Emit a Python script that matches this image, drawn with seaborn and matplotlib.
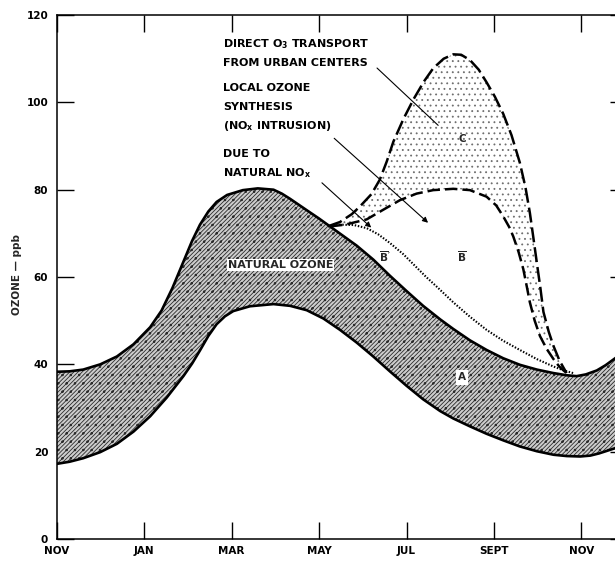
# Seasonal ozone cycle: natural band plus urban contributions

import matplotlib.pyplot as plt
import numpy as np
import seaborn as sns

# x is months after November (0 = NOV, 12 = next NOV), y is ozone in ppb
month_ticks = [0, 2, 4, 6, 8, 10, 12]
month_labels = ['NOV', 'JAN', 'MAR', 'MAY', 'JUL', 'SEPT', 'NOV']
ozone_ticks = [0, 20, 40, 60, 80, 100, 120]

# natural ozone band (A), top edge
upper_a_m = [0.0, 0.3, 0.61, 1.0, 1.38, 1.76, 2.14, 2.4, 2.65, 2.9, 3.1, 3.28,
             3.47, 3.66, 3.9, 4.26, 4.6, 4.96, 5.15, 5.34, 5.72, 6.0, 6.25,
             6.86, 7.24, 7.62, 8.0, 8.38, 8.77, 9.07, 9.45, 9.83, 10.21, 10.59,
             10.98, 11.36, 11.66, 11.89, 12.1, 12.35, 12.55, 12.77, 13.1]
upper_a_v = [38.3, 38.4, 38.8, 40.0, 41.8, 44.6, 48.5, 52.3, 57.5, 63.5, 68.3, 72.0,
             75.0, 77.2, 78.8, 79.9, 80.3, 80.0, 79.1, 77.9, 75.3, 73.4, 71.6,
             67.2, 64.0, 60.3, 56.8, 53.4, 50.3, 48.1, 45.5, 43.3, 41.4, 39.9,
             38.8, 38.0, 37.5, 37.3, 37.7, 38.6, 39.8, 41.4, 44.0]

# natural ozone band (A), bottom edge
lower_a_m = [0.0, 0.3, 0.61, 1.0, 1.38, 1.76, 2.14, 2.52, 2.9, 3.1, 3.28, 3.47,
             3.66, 3.85, 4.04, 4.42, 4.96, 5.34, 5.72, 6.1, 6.48, 6.86, 7.24,
             7.62, 8.0, 8.38, 8.77, 9.07, 9.45, 9.83, 10.21, 10.59, 10.98, 11.36,
             11.66, 11.97, 12.2, 12.4, 12.77, 13.1]
lower_a_v = [17.2, 17.7, 18.5, 19.9, 21.8, 24.6, 28.1, 32.4, 37.3, 40.2, 43.2, 46.5,
             49.2, 51.0, 52.2, 53.3, 53.8, 53.4, 52.4, 50.5, 47.9, 45.0, 41.8,
             38.4, 35.1, 32.0, 29.3, 27.6, 25.8, 24.1, 22.6, 21.2, 20.1, 19.3,
             19.0, 18.9, 19.1, 19.6, 20.8, 22.0]

# direct transport from urban centers (C)
c_m = [6.2, 6.48, 6.75, 6.94, 7.2, 7.39, 7.55, 7.7, 7.93, 8.16, 8.4, 8.61, 8.85,
       9.07, 9.25, 9.45, 9.65, 9.83, 10.02, 10.21, 10.4, 10.59, 10.72, 10.82,
       10.9, 10.98, 11.06, 11.13, 11.25, 11.36, 11.5, 11.66]
c_v = [71.6, 72.6, 74.4, 76.2, 79.0, 82.3, 86.5, 91.0, 96.2, 100.7, 104.8, 107.8,
       110.0, 111.0, 110.9, 109.7, 107.5, 104.6, 101.3, 97.4, 92.5, 86.2, 80.5,
       74.7, 69.0, 63.2, 57.5, 52.0, 47.5, 44.2, 40.8, 38.0]

# local synthesis, NOx intrusion (B)
b_m = [6.25, 6.6, 7.09, 7.45, 7.85, 8.23, 8.61, 9.07, 9.45, 9.83, 10.05, 10.21,
       10.35, 10.44, 10.56, 10.67, 10.75, 10.82, 10.93, 11.05, 11.2, 11.36, 11.5,
       11.66]
b_v = [71.6, 72.0, 73.2, 75.3, 77.6, 79.1, 79.9, 80.2, 79.9, 78.4, 76.4, 73.9,
       71.4, 69.3, 65.8, 61.8, 57.8, 54.2, 50.0, 46.5, 43.6, 41.2, 39.4, 38.0]

# due to natural NOx (B')
bp_m = [6.25, 6.48, 6.8, 7.09, 7.35, 7.62, 7.93, 8.23, 8.45, 8.69, 9.07, 9.45,
        9.83, 10.21, 10.59, 10.98, 11.36, 11.6, 11.81]
bp_v = [71.6, 72.0, 71.9, 71.2, 69.8, 67.8, 65.2, 62.2, 60.0, 57.8, 54.2, 50.9,
        47.9, 45.4, 43.3, 41.2, 39.5, 38.6, 38.0]


def main():
    sns.set_style('ticks')
    plt.rcParams['font.family'] = ['DejaVu Sans']
    plt.rcParams['mathtext.default'] = 'regular'
    plt.rcParams['hatch.linewidth'] = 0.6

    fig = plt.figure(figsize=(6.15, 5.61), dpi=100)
    ax = fig.add_axes([0.0919, 0.0392, 0.9276, 0.934])

    # shaded areas: textured grey for natural ozone, light stipple for C
    ax.fill(np.concatenate([upper_a_m, lower_a_m[::-1]]),
            np.concatenate([upper_a_v, lower_a_v[::-1]]),
            facecolor='#cdcdcd', edgecolor='#2a2a2a', hatch='/' * 8 + '..', lw=0)
    ax.fill(np.concatenate([c_m, b_m[::-1]]),
            np.concatenate([c_v, b_v[::-1]]),
            facecolor='white', edgecolor='#6e6e6e', hatch='...', lw=0)

    sns.lineplot(x=upper_a_m, y=upper_a_v, ax=ax, color='black', lw=1.9,
                 sort=False, estimator=None)
    sns.lineplot(x=lower_a_m, y=lower_a_v, ax=ax, color='black', lw=1.9,
                 sort=False, estimator=None)
    sns.lineplot(x=c_m, y=c_v, ax=ax, color='black', lw=1.8, sort=False,
                 estimator=None, linestyle=(0, (6, 2)))
    sns.lineplot(x=b_m, y=b_v, ax=ax, color='black', lw=1.8, sort=False,
                 estimator=None, linestyle=(0, (5, 2)))
    sns.lineplot(x=bp_m, y=bp_v, ax=ax, color='black', lw=1.5, sort=False,
                 estimator=None, linestyle=(0, (0.7, 0.8)))

    txt = dict(fontsize=8, fontweight='bold', color='black', va='center')
    ax.text(3.81, 113.3, 'DIRECT O$_3$ TRANSPORT', **txt)
    ax.text(3.81, 109.0, 'FROM URBAN CENTERS', **txt)
    ax.text(3.81, 103.2, 'LOCAL OZONE', **txt)
    ax.text(3.81, 98.9, 'SYNTHESIS', **txt)
    ax.text(3.81, 94.5, '(NO$_x$ INTRUSION)', **txt)
    ax.text(3.81, 88.1, 'DUE TO', **txt)
    ax.text(3.81, 83.9, 'NATURAL NO$_x$', **txt)

    ax.annotate('', xy=(8.77, 94.3), xytext=(7.28, 108.3),
                arrowprops=dict(arrowstyle='-', lw=0.8, color='black'))
    ax.annotate('', xy=(8.54, 72.0), xytext=(6.30, 92.2),
                arrowprops=dict(arrowstyle='-|>', lw=0.8, color='black',
                                mutation_scale=8))
    ax.annotate('', xy=(7.24, 70.9), xytext=(6.02, 82.0),
                arrowprops=dict(arrowstyle='-|>', lw=0.8, color='black',
                                mutation_scale=8))

    lab = dict(fontsize=7.5, fontweight='bold', ha='center', va='center')
    ax.text(9.27, 91.5, 'C', **lab)
    ax.text(9.26, 64.7, r'$\overline{B}$', **lab)
    ax.text(7.51, 64.7, r"$\overline{B}'$", **lab)
    ax.text(9.26, 37.0, 'A', bbox=dict(fc='white', ec='none', pad=1.5), **lab)
    ax.text(5.12, 62.8, 'NATURAL OZONE', fontsize=8, fontweight='bold',
            ha='center', va='center', bbox=dict(fc='white', ec='none', pad=0.8))

    ax.set_xlim(0, 13.04)
    ax.set_ylim(0, 120)
    ax.set_xticks(month_ticks)
    ax.set_xticklabels(month_labels)
    ax.set_yticks(ozone_ticks)
    ax.tick_params(direction='in', length=12, width=1, top=True, right=True,
                   labelsize=7.5, colors='black')
    ax.tick_params(axis='y', pad=6)
    ax.tick_params(axis='x', pad=5)
    for lbl in ax.get_xticklabels() + ax.get_yticklabels():
        lbl.set_fontweight('bold')
    for sp in ax.spines.values():
        sp.set_visible(True)
        sp.set_linewidth(1.1)
        sp.set_color('black')
    ax.set_ylabel('OZONE — ppb', fontsize=7.5, fontweight='bold')
    ax.yaxis.set_label_coords(-0.06, 0.505)
    ax.set_xlabel('')

    fig.savefig('out.png', dpi=100)
    plt.close(fig)


if __name__ == '__main__':
    main()
